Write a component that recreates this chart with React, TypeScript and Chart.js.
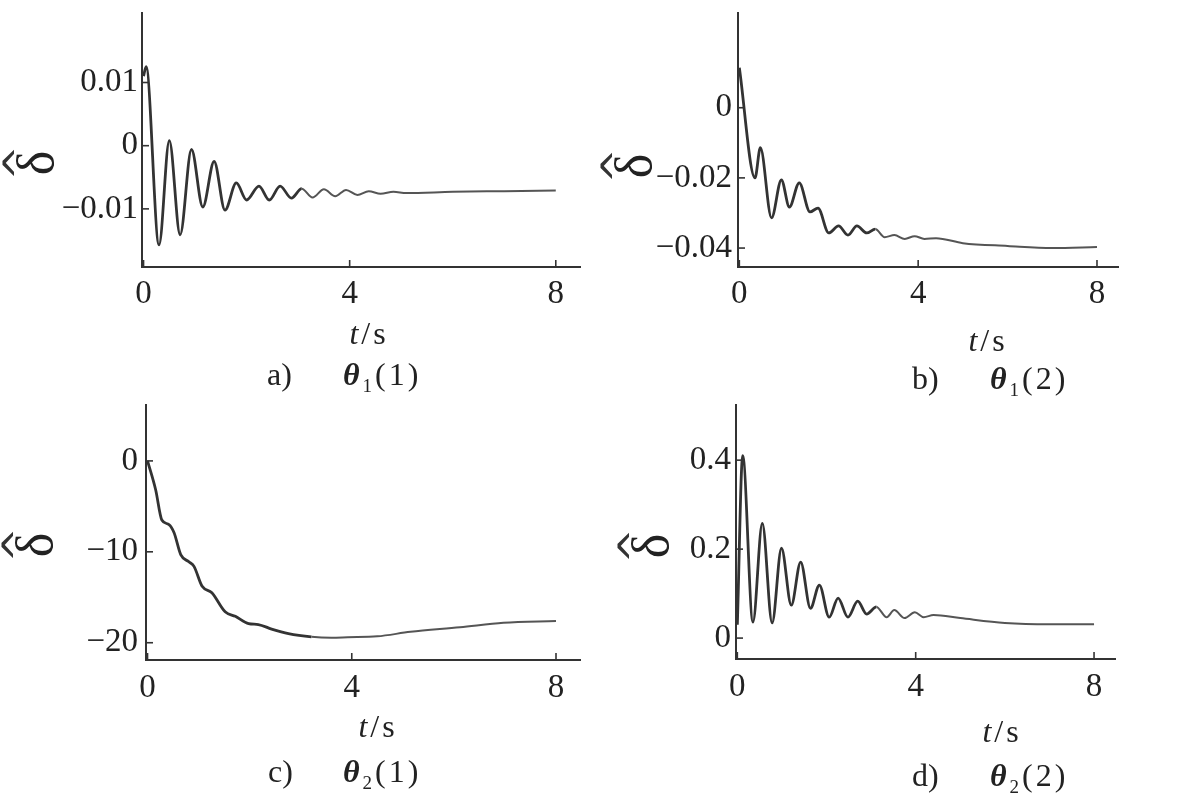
import React, { useEffect, useRef } from "react";
import { Chart, registerables } from "chart.js";

Chart.register(...registerables);

const FONT = '"Liberation Serif", "Times New Roman", serif';
const INK = "#333333";

// shared time axis
const X_MIN = -0.03;
const X_MAX = 8.47;
const xTicks = [0, 4, 8];
const xTickLabels = ["0", "4", "8"];

// a) theta1 (1)
const tA = [0, 0.05, 0.3, 0.5, 0.71, 0.93, 1.15, 1.37, 1.58, 1.8, 2.0, 2.24, 2.44, 2.65, 2.87, 3.07, 3.28, 3.5, 3.72, 3.93, 4.15, 4.37, 4.6, 4.85, 5.1, 6, 7, 8];
const vA = [0.011, 0.0125, -0.0157, 0.0008, -0.0141, -0.0006, -0.0097, -0.0025, -0.0102, -0.0059, -0.0086, -0.0064, -0.0086, -0.0064, -0.0083, -0.0068, -0.0082, -0.0069, -0.008, -0.007, -0.0078, -0.0072, -0.0076, -0.0073, -0.0075, -0.0073, -0.0072, -0.0071];
const yTicksA = [0.01, 0, -0.01];
const yLabelsA = ["0.01", "0", "\u22120.01"];

// b) theta1 (2)
const tB = [0, 0.35, 0.47, 0.72, 0.94, 1.12, 1.34, 1.58, 1.76, 2.0, 2.22, 2.43, 2.63, 2.85, 3.04, 3.25, 3.47, 3.7, 3.92, 4.14, 4.4, 5, 6, 7, 8];
const vB = [0.0114, -0.02, -0.0114, -0.0314, -0.0206, -0.0283, -0.0214, -0.0297, -0.0286, -0.0357, -0.0337, -0.0363, -0.0337, -0.0357, -0.0346, -0.0369, -0.0363, -0.0374, -0.0366, -0.0374, -0.0372, -0.0386, -0.0394, -0.04, -0.0397];
const yTicksB = [0, -0.02, -0.04];
const yLabelsB = ["0", "\u22120.02", "\u22120.04"];

// c) theta2 (1)
const tC = [0, 0.16, 0.28, 0.42, 0.52, 0.65, 0.81, 0.91, 1.07, 1.26, 1.52, 1.72, 1.98, 2.17, 2.43, 2.76, 3.21, 3.6, 3.92, 4.5, 5.15, 6.12, 6.97, 8];
const vC = [0, -3.2, -6.5, -7.0, -7.9, -10.3, -11.1, -11.6, -13.8, -14.5, -16.6, -17.1, -17.9, -18.0, -18.5, -19.0, -19.35, -19.45, -19.4, -19.3, -18.8, -18.3, -17.8, -17.6];
const yTicksC = [0, -10, -20];
const yLabelsC = ["0", "\u221210", "\u221220"];

// d) theta2 (2)
const tD = [0, 0.12, 0.35, 0.56, 0.78, 0.99, 1.21, 1.42, 1.64, 1.84, 2.06, 2.26, 2.48, 2.7, 2.9, 3.12, 3.35, 3.52, 3.75, 3.98, 4.18, 4.4, 5, 6, 7, 8];
const vD = [0.03, 0.41, 0.036, 0.258, 0.034, 0.202, 0.074, 0.171, 0.067, 0.119, 0.047, 0.09, 0.047, 0.083, 0.054, 0.07, 0.047, 0.063, 0.045, 0.058, 0.047, 0.052, 0.045, 0.034, 0.031, 0.031];
const yTicksD = [0.4, 0.2, 0];
const yLabelsD = ["0.4", "0.2", "0"];

const captionLetters = ["a)", "b)", "c)", "d)"];
const captionSubs = ["1", "1", "2", "2"];
const captionArgs = ["(1)", "(2)", "(1)", "(2)"];

type PanelSpec = {
  t: number[];
  v: number[];
  yTicks: number[];
  yLabels: string[];
  yMin: number;
  yMax: number;
  area: { left: number; top: number; right: number; bottom: number };
  yPad: number;
  xPad: number;
  ts: [number, number];
  capLetterX: number;
  capThetaX: number;
  capY: number;
  delta: [number, number];
  idx: number;
};

const panels: PanelSpec[] = [
  { t: tA, v: vA, yTicks: yTicksA, yLabels: yLabelsA, yMin: -0.0192, yMax: 0.021, area: { left: 142, top: 13, right: 580, bottom: 267 }, yPad: 4, xPad: 8, ts: [369, 335], capLetterX: 267, capThetaX: 343, capY: 376, delta: [30, 163], idx: 0 },
  { t: tB, v: vB, yTicks: yTicksB, yLabels: yLabelsB, yMin: -0.0454, yMax: 0.027, area: { left: 738, top: 13, right: 1118, bottom: 267 }, yPad: 6, xPad: 8, ts: [988, 342], capLetterX: 912, capThetaX: 990, capY: 380, delta: [628, 166], idx: 1 },
  { t: tC, v: vC, yTicks: yTicksC, yLabels: yLabelsC, yMin: -21.9, yMax: 6.15, area: { left: 146, top: 405, right: 580, bottom: 660 }, yPad: 8, xPad: 9, ts: [378, 728], capLetterX: 268, capThetaX: 343, capY: 773, delta: [29, 545], idx: 2 },
  { t: tD, v: vD, yTicks: yTicksD, yLabels: yLabelsD, yMin: -0.047, yMax: 0.524, area: { left: 736, top: 405, right: 1115, bottom: 659 }, yPad: 5, xPad: 9, ts: [1002, 733], capLetterX: 912, capThetaX: 990, capY: 777, delta: [645, 546], idx: 3 },
];

const inwardTicks = {
  id: "inwardTicks",
  afterDraw(chart: any) {
    const { ctx, chartArea: a, scales } = chart;
    ctx.save();
    ctx.strokeStyle = INK;
    ctx.lineWidth = 1.6;
    scales.y.ticks.forEach((tk: any) => {
      const py = scales.y.getPixelForValue(tk.value);
      ctx.beginPath();
      ctx.moveTo(a.left, py);
      ctx.lineTo(a.left + 7, py);
      ctx.stroke();
    });
    scales.x.ticks.forEach((tk: any) => {
      const px = scales.x.getPixelForValue(tk.value);
      ctx.beginPath();
      ctx.moveTo(px, a.bottom);
      ctx.lineTo(px, a.bottom - 7);
      ctx.stroke();
    });
    ctx.restore();
  },
};

const LY = 110;
const LX = 56;
const PT = 10;
const PR = 12;

function Panel({ p }: { p: PanelSpec }) {
  const ref = useRef<HTMLCanvasElement | null>(null);
  const w = p.area.right - p.area.left + LY + PR;
  const h = p.area.bottom - p.area.top + PT + LX;

  useEffect(() => {
    if (!ref.current) return;
    const chart = new Chart(ref.current, {
      type: "line",
      data: {
        datasets: [
          {
            data: p.t.map((t, i) => ({ x: t, y: p.v[i] })),
            borderColor: INK,
            borderWidth: 2.8,
            pointRadius: 0,
            fill: false,
            cubicInterpolationMode: "monotone",
            segment: {
              borderWidth: (c: any) => (c.p0.parsed.x >= 3 ? 2 : 2.8),
              borderColor: (c: any) => (c.p0.parsed.x >= 3 ? "#555555" : INK),
            },
          } as any,
        ],
      },
      options: {
        animation: false,
        responsive: false,
        maintainAspectRatio: false,
        devicePixelRatio: 1,
        events: [],
        layout: { padding: { top: PT, right: PR, left: 0, bottom: 0 } },
        plugins: {
          legend: { display: false },
          tooltip: { enabled: false },
          title: { display: false },
        },
        scales: {
          x: {
            type: "linear",
            min: X_MIN,
            max: X_MAX,
            grid: { display: false, drawTicks: false, tickLength: 0 },
            border: { display: true, color: INK, width: 2 },
            afterBuildTicks: (s: any) => {
              s.ticks = xTicks.map((v) => ({ value: v }));
            },
            afterFit: (s: any) => {
              s.height = LX;
              s.paddingLeft = 0;
              s.paddingRight = 0;
            },
            ticks: {
              padding: p.xPad,
              autoSkip: false,
              maxRotation: 0,
              color: "#222222",
              font: { family: FONT, size: 33 },
              callback: (_v: any, i: number) => xTickLabels[i],
            },
          },
          y: {
            type: "linear",
            min: p.yMin,
            max: p.yMax,
            grid: { display: false, drawTicks: false, tickLength: 0 },
            border: { display: true, color: INK, width: 2 },
            afterBuildTicks: (s: any) => {
              s.ticks = p.yTicks.map((v) => ({ value: v }));
            },
            afterFit: (s: any) => {
              s.width = LY;
              s.paddingTop = 0;
              s.paddingBottom = 0;
            },
            ticks: {
              padding: p.yPad,
              autoSkip: false,
              color: "#222222",
              font: { family: FONT, size: 33 },
              callback: (_v: any, i: number) => p.yLabels[i],
            },
          },
        },
      } as any,
      plugins: [inwardTicks as any],
    });
    return () => chart.destroy();
  }, []);

  const textStyle: React.CSSProperties = {
    position: "absolute",
    fontFamily: FONT,
    fontSize: 32,
    lineHeight: "36px",
    color: "#222222",
    whiteSpace: "nowrap",
  };

  return (
    <>
      <canvas
        ref={ref}
        width={w}
        height={h}
        style={{ position: "absolute", left: p.area.left - LY, top: p.area.top - PT, width: w, height: h }}
      />
      <div style={{ ...textStyle, left: p.ts[0] - 40, top: p.ts[1] - 20, width: 80, textAlign: "center", letterSpacing: 3 }}>
        <i>t</i>/s
      </div>
      <div style={{ ...textStyle, left: p.capLetterX, top: p.capY - 20 }}>{captionLetters[p.idx]}</div>
      <div style={{ ...textStyle, left: p.capThetaX, top: p.capY - 20, letterSpacing: 3 }}>
        <i style={{ fontWeight: 600 }}>θ</i>
        <sub style={{ fontSize: 19, verticalAlign: -7 }}>{captionSubs[p.idx]}</sub>
        {captionArgs[p.idx]}
      </div>
      <div
        style={{
          position: "absolute",
          left: p.delta[0] - 15,
          top: p.delta[1] - 27,
          width: 30,
          height: 54,
          transform: "rotate(-90deg)",
          color: "#222222",
        }}
      >
        <span
          style={{
            position: "absolute",
            left: -5,
            width: 40,
            top: -5,
            height: 44,
            textAlign: "center",
            fontFamily: '"DejaVu Sans", sans-serif',
            fontSize: 42,
            lineHeight: "44px",
            color: "#333333",
          }}
        >
          ^
        </span>
        <span
          style={{
            position: "absolute",
            left: -10,
            width: 50,
            top: 6,
            height: 54,
            textAlign: "center",
            fontFamily: FONT,
            fontSize: 52,
            lineHeight: "54px",
          }}
        >
          δ
        </span>
      </div>
    </>
  );
}

export default function App() {
  return (
    <div style={{ position: "absolute", left: 0, top: 0, width: 1200, height: 809, background: "#ffffff", overflow: "hidden" }}>
      {panels.map((p) => (
        <Panel key={p.idx} p={p} />
      ))}
    </div>
  );
}
